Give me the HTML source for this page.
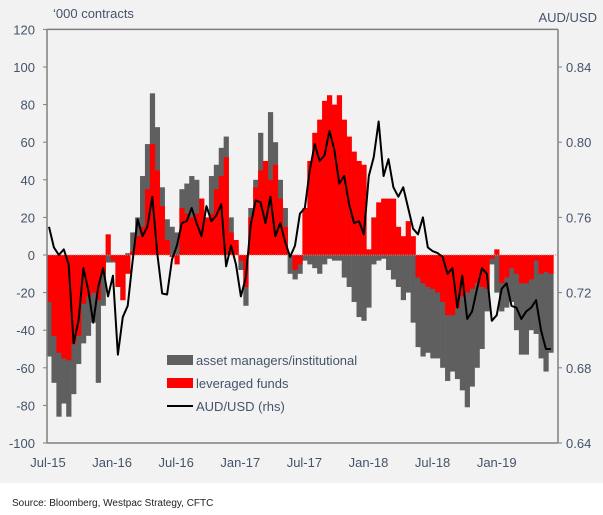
<!DOCTYPE html>
<html><head><meta charset="utf-8">
<style>
html,body{margin:0;padding:0;background:#fff;}
body{width:603px;height:515px;position:relative;overflow:hidden;font-family:"Liberation Sans",Arial,sans-serif;}
#bg{position:absolute;left:0;top:0;width:603px;height:483px;background:#f2f2f2;}
#src{position:absolute;left:12px;top:498px;font-size:10px;color:#222;}
svg{position:absolute;left:0;top:0;}
</style></head><body>
<div id="bg"></div>
<svg id="chart" width="603" height="483"></svg>
<div id="src">Source: Bloomberg, Westpac Strategy, CFTC</div>
<script>
const assetManagers = [-54,-68,-86,-79,-86,-74,-58,-47,-43,-36,-68,-27,-4,-4,-17,-24,1,12,20,42,59,86,68,36,19,15,12,
35,38,42,40,30,3,42,48,57,63,20,5,-8,-27,25,40,65,42,76,60,40,25,-10,-13,-10,
-3,-5,-7,-10,-5,-2,-3,-3,-12,-17,-25,-33,-35,-28,-5,-3,-2,-8,-13,-17,-24,-20,-36,-49,-54,
-52,-55,-55,-60,-67,-62,-66,-72,-81,-70,-60,-50,-30,-5,-20,-30,-28,-25,-40,-53,-53,-40,-42,-55,-62,-52];
const leveragedFunds = [-25,-43,-52,-55,-56,-47,-43,-26,-22,-20,-24,-10,11,-3,-17,-24,-10,2,10,15,35,59,45,26,8,-1,-5,
25,22,20,22,30,20,22,35,42,52,12,8,-3,-17,20,36,45,50,40,48,30,15,0,-8,-5,
25,50,65,72,82,85,80,85,72,63,55,50,48,3,20,28,30,30,30,15,10,18,10,-12,-15,
-17,-18,-20,-25,-32,-32,-28,-22,-20,-18,-15,-17,-18,-2,3,-15,-12,-7,-10,-15,-15,-13,-3,-10,-9,-10];
const audusd = [.755,.744,.740,.743,.735,.693,.705,.733,.721,.704,.723,.733,.718,.729,.687,.707,.713,.737,.759,.750,.755,.771,.741,.7195,.719,.7376,.745,
.757,.758,.765,.757,.750,.766,.758,.761,.767,.734,.745,.735,.718,.728,.756,.769,.768,.757,.771,.750,.757,.747,.739,.745,.762,
.765,.785,.799,.790,.793,.806,.796,.778,.782,.767,.757,.758,.751,.782,.792,.811,.782,.791,.776,.771,.776,.765,.754,.751,.760,
.744,.742,.741,.739,.730,.733,.712,.729,.706,.710,.722,.733,.730,.705,.708,.722,.725,.713,.712,.706,.710,.712,.716,.700,.690,.690];
const leftTicks = [120,100,80,60,40,20,0,-20,-40,-60,-80,-100];
const rightTicks = [0.84,0.80,0.76,0.72,0.68,0.64];
const xLabels = ["Jul-15","Jan-16","Jul-16","Jan-17","Jul-17","Jan-18","Jul-18","Jan-19"];

const NS="http://www.w3.org/2000/svg";
const svg=document.getElementById('chart');
const X0=47, X1=558, STEP=4.92;
const yL=v=>255-v*1.88;
const yR=v=>255-(v-0.74)*1880;
const xI=i=>X0+2+STEP*i;
function mk(t,a){const e=document.createElementNS(NS,t);for(const k in a)e.setAttribute(k,a[k]);svg.appendChild(e);return e;}
const TXT="#44546a";

// bars
assetManagers.forEach((v,i)=>{
  const r=mk('rect',{x:xI(i)-STEP/2,y:Math.min(yL(v),yL(0)),width:STEP+0.3,height:Math.abs(yL(v)-yL(0)),fill:'#5f5f5f'});
  
  
});
leveragedFunds.forEach((v,i)=>{
  const r=mk('rect',{x:xI(i)-STEP/2,y:Math.min(yL(v),yL(0)),width:STEP+0.3,height:Math.abs(yL(v)-yL(0)),fill:'#ff0000'});
  
  
});
const zl=mk('line',{x1:X0,x2:X1,y1:yL(0),y2:yL(0),stroke:'#d08080','stroke-width':1,'stroke-dasharray':'1,1'});


// line
const pl=mk('polyline',{points:audusd.map((v,i)=>xI(i)+','+yR(v)).join(' '),fill:'none',stroke:'#000','stroke-width':2,'stroke-linejoin':'round'});



// axes
const axc='#7f7f7f';
[['left-axis',X0,yL(120),X0,yL(-100)],['right-axis',X1,yL(120),X1,yL(-100)],['top-border',X0,yL(120),X1,yL(120)],['bottom-axis',X0,yL(-100),X1,yL(-100)]].forEach(a=>{
  const l=mk('line',{x1:a[1],y1:a[2],x2:a[3],y2:a[4],stroke:axc,'stroke-width':1.5});
  
  
});
leftTicks.forEach(v=>{
  mk('line',{x1:X0-4,x2:X0,y1:yL(v),y2:yL(v),stroke:axc});
  const t=mk('text',{x:35,y:yL(v)+5,'text-anchor':'end','font-size':13,fill:TXT});
  t.textContent=v;
  
  
});
rightTicks.forEach(v=>{
  mk('line',{x1:X1,x2:X1+4,y1:yR(v),y2:yR(v),stroke:axc});
  const t=mk('text',{x:566,y:yR(v)+5,'font-size':13,fill:TXT});
  t.textContent=v.toFixed(2);
  
  
});
xLabels.forEach((s,k)=>{
  const t=mk('text',{x:48+64.1*k,y:467,'text-anchor':'middle','font-size':13,fill:TXT});
  t.textContent=s;
  
  
});
const lt=mk('text',{x:53,y:18,'font-size':13,fill:TXT});
lt.textContent="\u2018000 contracts";


const rt=mk('text',{x:597,y:22,'text-anchor':'end','font-size':13,fill:TXT});
rt.textContent="AUD/USD";



// legend
const leg=[['asset managers/institutional','#5f5f5f','rect'],['leveraged funds','#ff0000','rect'],['AUD/USD (rhs)','#000','line']];
leg.forEach((e,k)=>{
  const y=360+23*k;
  if(e[2]==='rect'){
    const s=mk('rect',{x:167,y:y-5,width:26,height:10,fill:e[1]});
    
    
  } else {
    const s=mk('line',{x1:167,x2:193,y1:y,y2:y,stroke:'#000','stroke-width':2});
    
    
  }
  const t=mk('text',{x:196,y:y+5,'font-size':13,fill:TXT});
  t.textContent=e[0];
  
  
});
</script>
</body></html>
